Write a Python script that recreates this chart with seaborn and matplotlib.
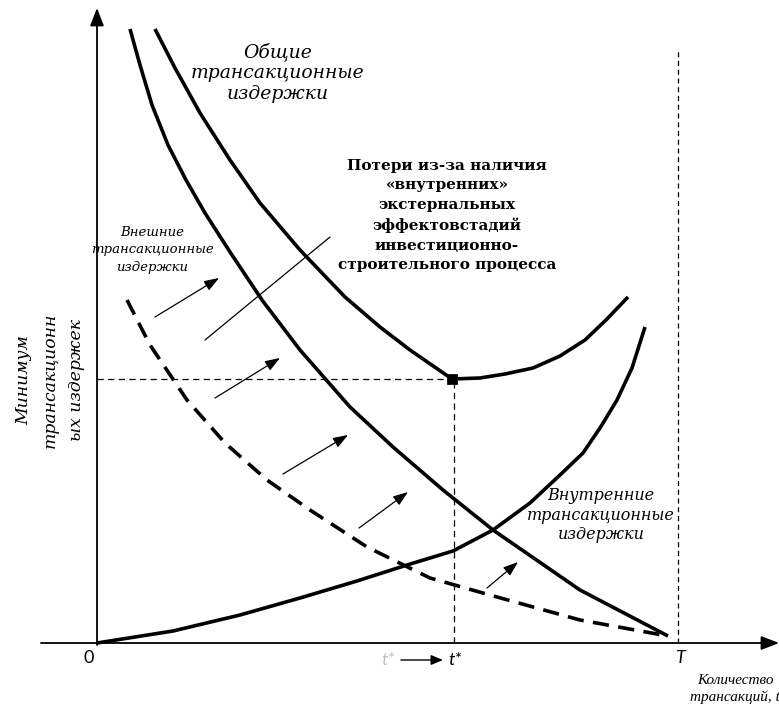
import matplotlib
matplotlib.use("Agg")
import matplotlib.pyplot as plt
import seaborn as sns

sns.set_theme(style="white")
plt.rcParams['font.family'] = ['Liberation Serif', 'DejaVu Serif']
plt.rcParams['text.color'] = 'black'

# ---- data (chart units: transactions on x, costs on y) ----
total_x = [58, 78, 103, 133, 163, 203, 248, 283, 313, 355, 383, 408, 436, 463, 488, 509, 531]
total_y = [614, 575, 530, 483, 440, 393, 346, 316, 293, 264, 265, 269, 275, 287, 303, 323, 346]

external_x = [33, 43, 55, 71, 89, 108, 133, 165, 203, 253, 296, 346, 396, 483, 571]
external_y = [614, 578, 538, 498, 463, 430, 391, 343, 293, 236, 196, 153, 113, 53, 7]

internal_x = [0, 76, 143, 203, 260, 310, 356, 396, 433, 463, 486, 503, 520, 535, 548]
internal_y = [0, 12, 28, 45, 62, 78, 92, 113, 140, 168, 190, 215, 243, 275, 316]

dashed_x = [30, 53, 90, 128, 170, 213, 270, 333, 400, 483, 571]
dashed_y = [343, 298, 243, 200, 163, 133, 96, 65, 46, 23, 7]

t_star = 357
min_cost = 264
T_val = 581
T_top = 593

arrow_x0 = [58, 118, 186, 262, 390]
arrow_y0 = [326, 245, 169, 115, 55]
arrow_x1 = [122, 183, 251, 311, 421]
arrow_y1 = [365, 285, 208, 151, 81]

pointer_x = [108, 233]
pointer_y = [303, 406]

# ---- figure ----
fig = plt.figure(figsize=(7.79, 7.06), dpi=100)
ax = fig.add_axes([0, 0, 1, 1])
ax.set_xlim(-97, 682)
ax.set_ylim(-63, 643)
ax.axis("off")

lw = 2.6
for xs, ys in [(total_x, total_y), (external_x, external_y), (internal_x, internal_y)]:
    sns.lineplot(x=xs, y=ys, sort=False, estimator=None, color="black",
                 lw=lw, ax=ax, solid_joinstyle="round", solid_capstyle="butt")
sns.lineplot(x=dashed_x, y=dashed_y, sort=False, estimator=None, color="black",
             lw=lw, ax=ax, linestyle=(0, (4.5, 2.6)), dash_capstyle="butt")

# reference lines
ax.plot([0, t_star], [min_cost, min_cost], color="black", lw=0.9, linestyle=(0, (5, 3.5)))
ax.plot([t_star, t_star], [0, min_cost], color="black", lw=0.9, linestyle=(0, (5, 3.5)))
ax.plot([T_val, T_val], [0, T_top], color="black", lw=0.9, linestyle=(0, (4, 3)))

# minimum point
sns.scatterplot(x=[t_star - 2], y=[min_cost], marker="s", s=45, color="black",
                edgecolor="black", ax=ax, zorder=5)

# axes with arrows
ax.annotate("", xy=(0, 635), xytext=(0, -2),
            arrowprops=dict(arrowstyle="-|>,head_length=0.9,head_width=0.35",
                            color="black", lw=1.3, shrinkA=0, shrinkB=0))
ax.annotate("", xy=(682, 0), xytext=(-56, 0),
            arrowprops=dict(arrowstyle="-|>,head_length=0.9,head_width=0.35",
                            color="black", lw=1.3, shrinkA=0, shrinkB=0))

# small arrows
for x0, y0, x1, y1 in zip(arrow_x0, arrow_y0, arrow_x1, arrow_y1):
    ax.annotate("", xy=(x1, y1), xytext=(x0, y0),
                arrowprops=dict(arrowstyle="-|>,head_length=0.75,head_width=0.27",
                                color="black", lw=0.9, shrinkA=0, shrinkB=0))
ax.plot(pointer_x, pointer_y, color="black", lw=0.9)

# labels
ital = ["DejaVu Serif"]
ax.text(181, 570, "Общие\nтрансакционные\nиздержки", ha="center", va="center",
        fontsize=13.5, style="italic", family=ital, linespacing=1.2)
ax.text(350, 427.5, "Потери из-за наличия\n«внутренних»\nэкстернальных\nэффектовстадий\nинвестиционно-\nстроительного процесса",
        ha="center", va="center", fontsize=11, fontweight="bold",
        family=["DejaVu Serif"], linespacing=1.5)
ax.text(55, 393, "Внешние\nтрансакционные\nиздержки", ha="center", va="center",
        fontsize=9.5, style="italic", family=ital, linespacing=1.5)
ax.text(504, 128, "Внутренние\nтрансакционные\nиздержки", ha="center", va="center",
        fontsize=11.5, style="italic", family=ital, linespacing=1.2)
ax.text(-47, 263, "Минимум\nтрансакционн\nых издержек", ha="center", va="center",
        rotation=90, fontsize=12.4, style="italic", family=ital, linespacing=1.7)

sans = ["Lato", "DejaVu Sans"]
ax.text(-8, -15, "0", ha="center", va="center", fontsize=13, family=sans)
ax.text(291, -17, "t*", ha="center", va="center", fontsize=13, style="italic",
        color="#c0c0c0", family=sans)
ax.annotate("", xy=(346, -17), xytext=(304, -17),
            arrowprops=dict(arrowstyle="-|>,head_length=0.6,head_width=0.25",
                            color="black", lw=1.0, shrinkA=0, shrinkB=0))
ax.text(358, -17, "t*", ha="center", va="center", fontsize=13, style="italic",
        family=sans)
ax.text(583, -15, "T", ha="center", va="center", fontsize=13, style="italic",
        family=sans)
ax.text(638, -46, "Количество\nтрансакций, t", ha="center", va="center",
        fontsize=11, style="italic", linespacing=1.25)

fig.savefig("out.png", dpi=100)
